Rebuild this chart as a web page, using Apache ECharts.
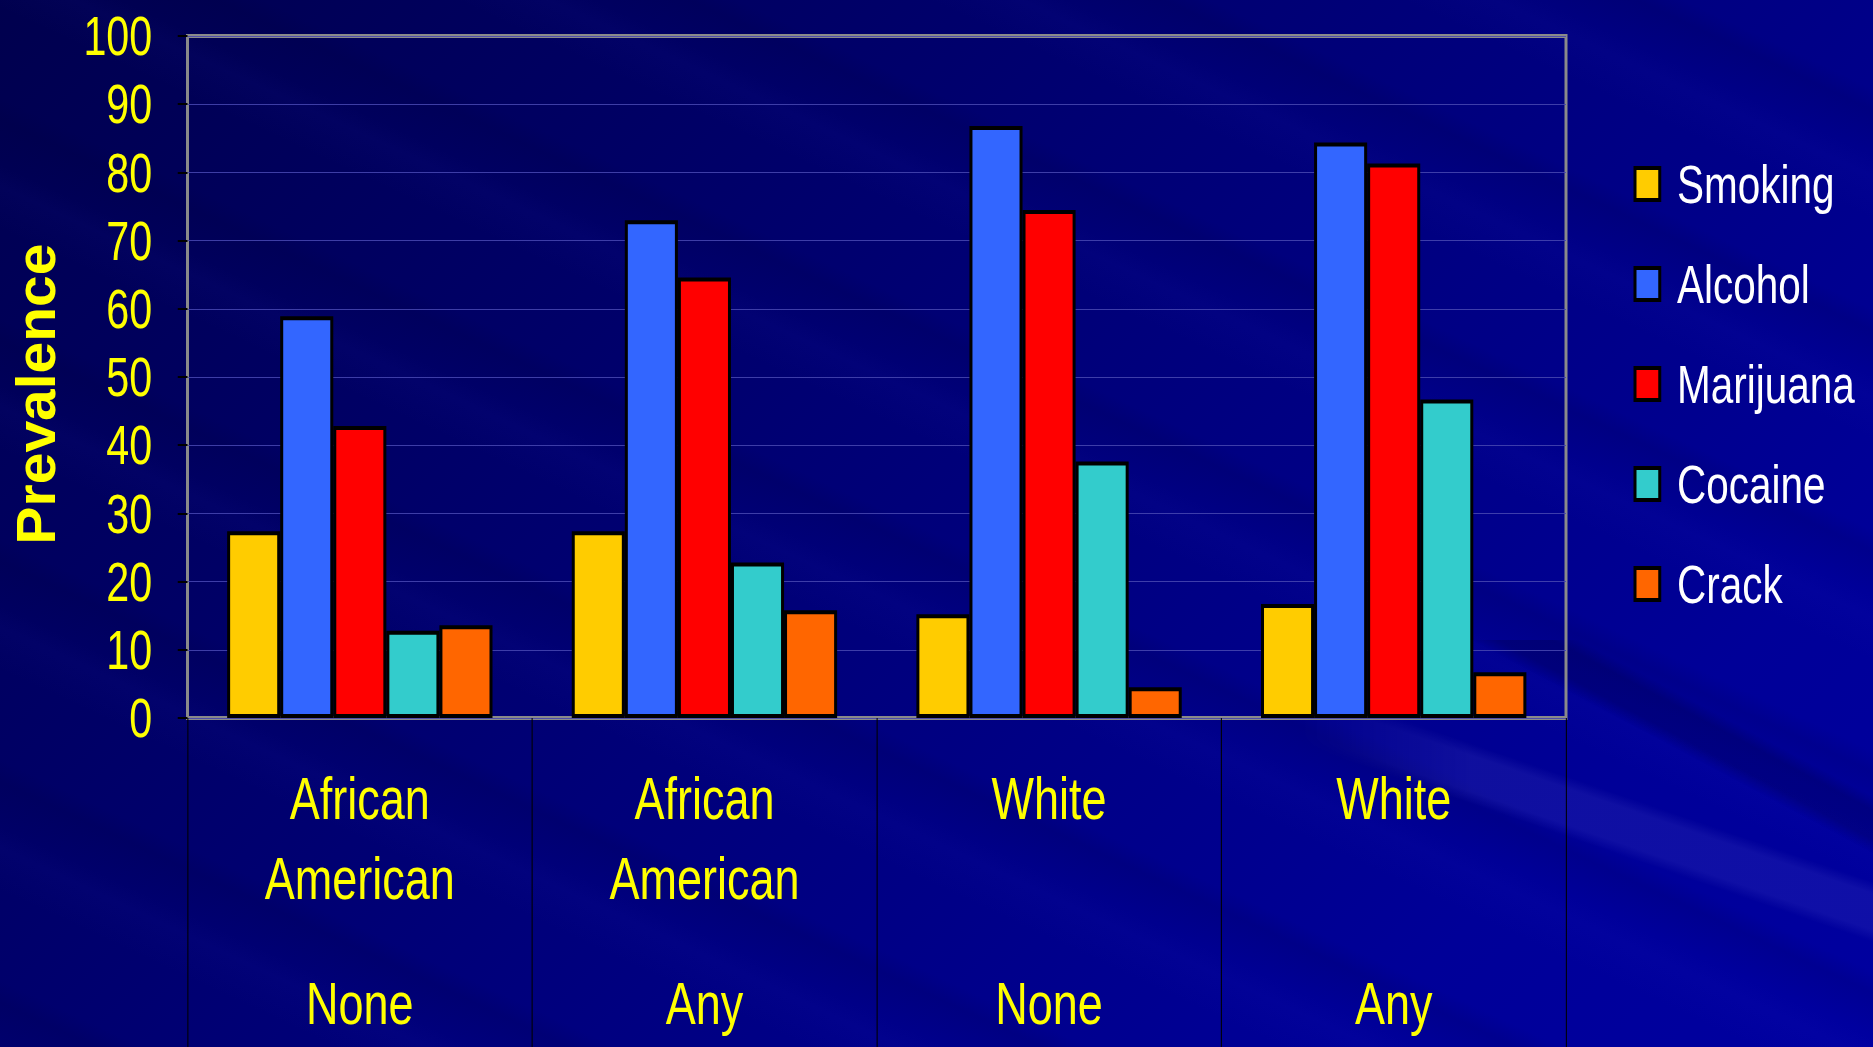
<!DOCTYPE html>
<html>
<head>
<meta charset="utf-8">
<title>Prevalence of substance use</title>
<script src="https://cdn.jsdelivr.net/npm/echarts@6/dist/echarts.min.js"></script>
<style>
  html, body {
    margin: 0;
    padding: 0;
    width: 1873px;
    height: 1047px;
    overflow: hidden;
    position: relative;
    background:
      repeating-linear-gradient(205deg, rgba(0,0,40,0) 0px, rgba(0,0,40,0) 80px, rgba(0,0,40,0.10) 100px, rgba(0,0,40,0) 140px, rgba(60,60,255,0.035) 160px, rgba(0,0,40,0) 200px),
      linear-gradient(135deg, #00004e 0%, #000066 28%, #000082 58%, #000098 82%, #0000a0 100%);
  }
  /* light and dark diagonal streaks in the lower right corner */
  #streaks {
    position: absolute;
    left: 1300px;
    top: 640px;
    width: 573px;
    height: 407px;
    background:
      linear-gradient(199deg, rgba(150,150,255,0) 40%, rgba(150,150,255,0.10) 42%, rgba(150,150,255,0.10) 48%, rgba(150,150,255,0) 50%),
      linear-gradient(208deg, rgba(0,0,40,0) 22%, rgba(0,0,40,0.22) 24%, rgba(0,0,40,0.22) 28%, rgba(0,0,40,0) 30%);
    -webkit-mask-image: linear-gradient(90deg, transparent 0%, black 30%);
    mask-image: linear-gradient(90deg, transparent 0%, black 30%);
  }
  /* The slide is laid out in a wider frame and squeezed horizontally. */
  #chart {
    position: absolute;
    left: 0;
    top: 0;
    width: 2497px;
    height: 1047px;
    transform: scaleX(0.75);
    transform-origin: 0 0;
  }
</style>
</head>
<body>
<div id="streaks"></div>
<div id="chart"></div>
<script>
// Groups along the x axis: race and prenatal exposure
const raceGroups = ['African American', 'African American', 'White', 'White'];
const exposure = ['None', 'Any', 'None', 'Any'];

// Substances (legend order)
const substances = ['Smoking', 'Alcohol', 'Marijuana', 'Cocaine', 'Crack'];

// Prevalence (%) per group
const smoking   = [27.4, 27.4, 15.2, 16.7];
const alcohol   = [58.9, 73.0, 86.8, 84.4];
const marijuana = [42.8, 64.6, 74.5, 81.3];
const cocaine   = [12.8, 22.8, 37.6, 46.7];
const crack     = [13.6, 15.8, 4.5, 6.7];

const colors = ['#FFCC00', '#3366FF', '#FF0000', '#33CCCC', '#FF6600'];
const valueSets = [smoking, alcohol, marijuana, cocaine, crack];

const categories = raceGroups.map((r, i) => r + '|' + exposure[i]);

const FONT = '"Liberation Sans", Arial, Helvetica, sans-serif';

const chart = echarts.init(document.getElementById('chart'), null, { renderer: 'svg' });

chart.setOption({
  backgroundColor: 'transparent',
  animation: false,
  grid: {
    left: 250,
    right: 409,
    top: 36,
    bottom: 329,
    show: true,
    borderColor: '#8a8a8a',
    borderWidth: 4,
    backgroundColor: 'transparent'
  },
  legend: {
    orient: 'vertical',
    left: 2173,
    top: 152,
    itemWidth: 33,
    itemHeight: 32,
    itemGap: 46,
    icon: 'rect',
    data: substances,
    itemStyle: { borderColor: '#000', borderWidth: 4 },
    textStyle: {
      color: '#FFFFFF',
      fontSize: 54,
      fontFamily: FONT,
      padding: [0, 0, 0, 18]
    }
  },
  graphic: [{
    type: 'text',
    x: 47,
    y: 394,
    rotation: Math.PI / 2,
    scaleY: 1.3,
    style: {
      text: 'Prevalence',
      fill: '#FFFF00',
      font: 'bold 57px ' + FONT,
      align: 'center',
      verticalAlign: 'middle'
    }
  }],
  xAxis: {
    type: 'category',
    data: categories,
    boundaryGap: true,
    axisLine: { show: false },
    axisTick: {
      show: true,
      length: 329,
      lineStyle: { color: '#000000', width: 1.4 }
    },
    axisLabel: {
      interval: 0,
      margin: 40,
      formatter: function (v) {
        const parts = v.split('|');
        const words = parts[0].split(' ');
        const l1 = words[0];
        const l2 = words.length > 1 ? words.slice(1).join(' ') : '\u00a0';
        return '{a|' + l1 + '}\n{a|' + l2 + '}\n{b|' + parts[1] + '}';
      },
      rich: {
        a: { color: '#FFFF00', fontSize: 60, lineHeight: 80, fontFamily: FONT },
        b: { color: '#FFFF00', fontSize: 60, lineHeight: 170, fontFamily: FONT }
      }
    }
  },
  yAxis: {
    type: 'value',
    min: 0,
    max: 100,
    interval: 10,
    axisLine: { show: false },
    axisTick: {
      show: true,
      length: 13,
      lineStyle: { color: '#000000', width: 2 }
    },
    axisLabel: {
      color: '#FFFF00',
      fontSize: 55,
      fontFamily: FONT,
      margin: 47
    },
    splitLine: {
      show: true,
      lineStyle: { color: '#4646b0', width: 1 }
    }
  },
  series: substances.map((name, i) => ({
    name: name,
    type: 'bar',
    data: valueSets[i],
    barGap: '0%',
    barCategoryGap: '23%',
    itemStyle: {
      color: colors[i],
      borderColor: '#000000',
      borderWidth: 4
    }
  }))
});
</script>
</body>
</html>
